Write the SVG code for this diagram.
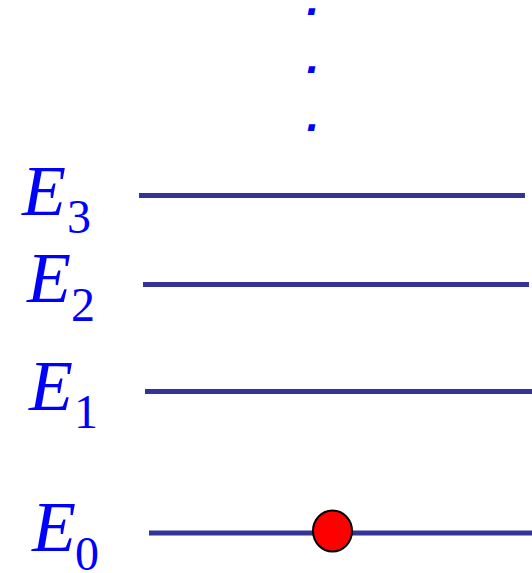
<svg xmlns="http://www.w3.org/2000/svg" width="532" height="573" viewBox="0 0 532 573">
<style>
.lvl{stroke:#333399;stroke-width:5;fill:none}
.lab{font-family:"Liberation Serif","Times New Roman",serif;font-style:italic;font-size:72px;fill:#0000ff}
.sub{font-family:"Liberation Serif","Times New Roman",serif;font-style:normal;font-size:48px;fill:#0000ff}
.dot{font-family:"DejaVu Sans",sans-serif;font-style:oblique;font-weight:bold;font-size:36px;fill:#0000ff}
</style>
<rect width="532" height="573" fill="#ffffff"/>
<g id="dots">
<text class="dot" x="306" y="15">.</text>
<text class="dot" x="306" y="73">.</text>
<text class="dot" x="306" y="131">.</text>
</g>
<g id="connectors">
<line class="lvl" x1="139" y1="195.5" x2="525" y2="195.5"/>
<line class="lvl" x1="143" y1="284.5" x2="529" y2="284.5"/>
<line class="lvl" x1="145" y1="391.5" x2="532" y2="391.5"/>
<line class="lvl" x1="149" y1="533" x2="532" y2="533"/>
</g>
<g id="E3"><text class="lab" x="22" y="215">E</text><text class="sub" x="67" y="233">3</text></g>
<g id="E2"><text class="lab" x="27" y="302">E</text><text class="sub" x="71" y="321">2</text></g>
<g id="E1"><text class="lab" x="29" y="410">E</text><text class="sub" x="74" y="428">1</text></g>
<g id="E0"><text class="lab" x="32" y="551">E</text><text class="sub" x="75" y="570">0</text></g>
<g id="particle"><ellipse cx="332.5" cy="531" rx="19.5" ry="20.5" fill="#ff0000" stroke="#000000" stroke-width="2"/></g>
</svg>
